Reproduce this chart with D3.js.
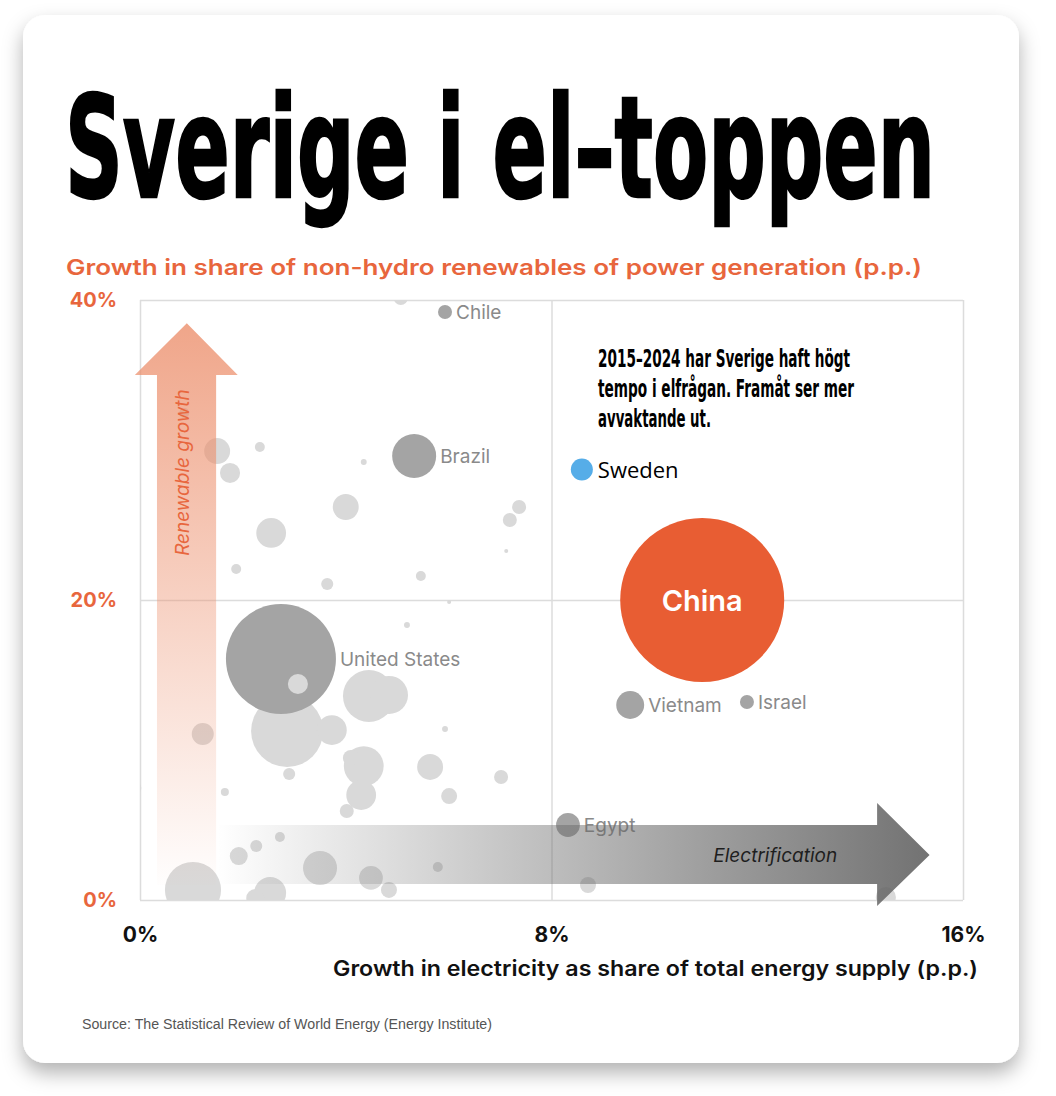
<!DOCTYPE html>
<html lang="sv">
<head>
<meta charset="UTF-8" />
<title>Sverige i el-toppen</title>
<style>
  html, body { margin: 0; padding: 0; background: #fff; }
  svg { display: block; }
  .tick line { stroke: #dcdcdc; stroke-width: 1.5px; }
  .domain { display: none; }
</style>
</head>
<body>
<svg id="chart" width="1056" height="1096"></svg>
<script src="https://d3js.org/d3.v7.min.js"></script>
<script>
  // labelled countries
  const names   = ["China", "Sweden", "United States", "Brazil", "Chile", "Vietnam", "Israel", "Egypt"];
  const xVals   = [10.93, 8.59, 2.74, 5.33, 5.93, 9.53, 11.80, 8.32];
  const yVals   = [20.0, 28.7, 16.07, 29.6, 39.2, 13.0, 13.2, 5.0];
  const sizes   = [100, 1.8, 45, 7.2, 0.73, 2.9, 0.73, 2.1];

  // unlabelled countries (x, y, size)
  const otherX = [5.07, 1.50, 1.75, 2.33, 4.35, 4.00, 2.55, 7.37, 7.19, 7.12, 1.87, 3.64, 5.46, 6.01, 0.86,
                  2.86, 3.73, 4.45, 4.84, 5.19, 5.93, 4.35, 4.10, 4.30, 4.02, 5.64, 6.01, 7.02, 2.90, 1.65,
                  1.22, -0.15, 2.72, 2.26, 1.92, 3.50, 4.49, 4.84, 5.79, 1.03, 2.53, 2.24, 8.71, 14.50];
  const otherY = [40.13, 29.93, 28.47, 30.2, 29.2, 26.2, 24.47, 26.2, 25.33, 23.27, 22.07, 21.07, 21.6, 19.87, 32.47,
                  11.27, 11.33, 13.6, 13.67, 18.33, 11.4, 8.93, 9.47, 7.0, 5.93, 8.87, 6.93, 8.2, 8.4, 7.2,
                  11.07, 7.47, 4.2, 3.6, 2.93, 2.13, 1.47, 0.67, 2.2, 0.67, 0.47, 0.13, 1.0, 0.2];
  const otherS = [0.73, 2.5, 1.5, 0.37, 0.13, 2.5, 3.3, 0.73, 0.73, 0.06, 0.37, 0.54, 0.37, 0.06, 0.37,
                  19.3, 3.3, 10.0, 5.4, 0.13, 0.13, 5.9, 0.95, 3.3, 0.73, 2.5, 0.95, 0.73, 0.54, 0.24,
                  1.8, 1.2, 0.37, 0.54, 1.2, 4.3, 2.1, 0.95, 0.37, 11.7, 3.8, 1.2, 0.95, 1.5];
  // light circle that sits on top of the US bubble
  const topX = [3.07], topY = [14.4], topS = [1.5];

  const xTicks = [0, 8, 16];
  const yTicks = [0, 20, 40];
  const noteLines = ["2015–2024 har Sverige haft högt", "tempo i elfrågan. Framåt ser mer", "avvaktande ut."];

  const svg = d3.select("#chart");
  const orange = "#e8663d";

  const x = d3.scaleLinear().domain([0, 16]).range([140, 963]);
  const y = d3.scaleLinear().domain([0, 40]).range([900, 300]);
  const r = d3.scaleSqrt().domain([0, 100]).range([0, 82]);

  const defs = svg.append("defs");
  const shadow = defs.append("filter").attr("id", "shadow")
    .attr("x", "-10%").attr("y", "-10%").attr("width", "120%").attr("height", "125%");
  shadow.append("feDropShadow").attr("dx", 0).attr("dy", 10).attr("stdDeviation", 10)
    .attr("flood-color", "#000").attr("flood-opacity", 0.3);

  defs.append("clipPath").attr("id", "plotclip").append("rect")
    .attr("x", x(0)).attr("y", y(40)).attr("width", x(16) - x(0)).attr("height", y(0) - y(40));

  const gv = defs.append("linearGradient").attr("id", "gradV")
    .attr("gradientUnits", "userSpaceOnUse")
    .attr("x1", 0).attr("x2", 0).attr("y1", y(38.5)).attr("y2", y(0.5));
  gv.append("stop").attr("offset", 0).attr("stop-color", "#ec8f6c").attr("stop-opacity", 0.8);
  gv.append("stop").attr("offset", 1).attr("stop-color", "#ec8f6c").attr("stop-opacity", 0);

  const gh = defs.append("linearGradient").attr("id", "gradH")
    .attr("gradientUnits", "userSpaceOnUse")
    .attr("x1", x(1.5)).attr("x2", x(15.35)).attr("y1", 0).attr("y2", 0);
  gh.append("stop").attr("offset", 0).attr("stop-color", "#666").attr("stop-opacity", 0);
  gh.append("stop").attr("offset", 1).attr("stop-color", "#666").attr("stop-opacity", 0.92);

  // card
  svg.append("rect")
    .attr("x", 23).attr("y", 15).attr("width", 996).attr("height", 1048)
    .attr("rx", 22).attr("fill", "#fff").attr("filter", "url(#shadow)");

  // headline: smaller font stretched vertically to get the tall condensed look
  svg.append("g").attr("transform", "translate(65,197) scale(1,1.95)")
    .append("text")
    .attr("x", 0).attr("y", 0)
    .attr("textLength", 870).attr("lengthAdjust", "spacingAndGlyphs")
    .style("font-family", "'Liberation Sans Narrow', 'DejaVu Sans Condensed', sans-serif")
    .style("font-weight", 700).style("font-size", "72px").attr("fill", "#000")
    .attr("stroke", "#000").attr("stroke-width", 1.2)
    .text("Sverige i el–toppen");

  // y axis title
  svg.append("text")
    .attr("x", 66).attr("y", 275)
    .attr("textLength", 856).attr("lengthAdjust", "spacingAndGlyphs")
    .style("font-family", "Inter, 'Noto Sans', sans-serif")
    .style("font-weight", 600).style("font-size", "22px").attr("fill", orange)
    .text("Growth in share of non-hydro renewables of power generation (p.p.)");

  // grid and frame
  svg.append("g").attr("transform", `translate(0,${y(0)})`)
    .call(d3.axisBottom(x).tickValues(xTicks).tickSize(-(y(0) - y(40))).tickFormat(""));
  svg.append("g").attr("transform", `translate(${x(0)},0)`)
    .call(d3.axisLeft(y).tickValues(yTicks).tickSize(-(x(16) - x(0))).tickFormat(""));

  // bubbles
  const plot = svg.append("g").attr("clip-path", "url(#plotclip)");
  const others = otherX.map((v, i) => ({ x: v, y: otherY[i], s: otherS[i] }));
  const labelled = names.map((n, i) => ({ name: n, x: xVals[i], y: yVals[i], s: sizes[i] }));
  const tops = topX.map((v, i) => ({ x: v, y: topY[i], s: topS[i] }));

  plot.selectAll("circle.other").data(others).join("circle")
    .attr("class", "other")
    .attr("cx", d => x(d.x)).attr("cy", d => y(d.y)).attr("r", d => r(d.s))
    .attr("fill", "#d9d9d9");

  plot.selectAll("circle.lab").data(labelled).join("circle")
    .attr("class", "lab")
    .attr("cx", d => x(d.x)).attr("cy", d => y(d.y)).attr("r", d => r(d.s))
    .attr("fill", d => d.name === "China" ? "#e85d33" : d.name === "Sweden" ? "#56ade8" : "#a4a4a4");

  plot.selectAll("circle.top").data(tops).join("circle")
    .attr("class", "top")
    .attr("cx", d => x(d.x)).attr("cy", d => y(d.y)).attr("r", d => r(d.s))
    .attr("fill", "#d9d9d9");

  // country labels
  const grey = labelled.filter(d => d.name !== "China" && d.name !== "Sweden");
  svg.selectAll("text.clab").data(grey).join("text")
    .attr("class", "clab")
    .attr("x", d => x(d.x) + r(d.s) + 4).attr("y", d => y(d.y) + 7)
    .style("font-family", "Inter, 'Noto Sans', sans-serif")
    .style("font-size", "19px").attr("fill", "#8a8a8a")
    .text(d => d.name);

  const china = labelled[0];
  svg.append("text")
    .attr("x", x(china.x)).attr("y", y(china.y) + 11).attr("text-anchor", "middle")
    .style("font-family", "Inter, 'Noto Sans', sans-serif")
    .style("font-weight", 600).style("font-size", "29px").attr("fill", "#fff")
    .text("China");

  const sweden = labelled[1];
  svg.append("text")
    .attr("x", x(sweden.x) + r(sweden.s) + 5).attr("y", y(sweden.y) + 8)
    .style("font-family", "'Open Sans', 'Noto Sans', sans-serif")
    .style("font-size", "22px").attr("fill", "#000")
    .text("Sweden");

  // note
  const noteWidths = [252, 256, 113];
  svg.selectAll("text.note").data(noteLines).join("text")
    .attr("class", "note")
    .attr("x", 598).attr("y", (d, i) => 367 + i * 30)
    .attr("textLength", (d, i) => noteWidths[i]).attr("lengthAdjust", "spacingAndGlyphs")
    .style("font-family", "'Liberation Sans Narrow', 'DejaVu Sans Condensed', sans-serif")
    .style("font-weight", 700).style("font-size", "24px").attr("fill", "#000")
    .text(d => d);

  // vertical arrow: renewable growth
  const vArrow = [[0.33, 1.0], [0.33, 35.0], [-0.1, 35.0], [0.91, 38.45], [1.9, 35.0], [1.48, 35.0], [1.48, 1.0]];
  svg.append("path")
    .attr("d", d3.line().x(d => x(d[0])).y(d => y(d[1]))(vArrow) + "Z")
    .attr("fill", "url(#gradV)");
  svg.append("text")
    .attr("transform", `translate(${x(0.95)},${y(28.5)}) rotate(-90)`)
    .attr("text-anchor", "middle")
    .style("font-family", "Inter, 'Noto Sans', sans-serif")
    .style("font-style", "italic").style("font-size", "19px").attr("fill", orange)
    .text("Renewable growth");

  // horizontal arrow: electrification
  const hArrow = [[1.5, 1.07], [14.33, 1.07], [14.33, -0.4], [15.35, 3.0], [14.33, 6.47], [14.33, 5.0], [1.5, 5.0]];
  svg.append("path")
    .attr("d", d3.line().x(d => x(d[0])).y(d => y(d[1]))(hArrow) + "Z")
    .attr("fill", "url(#gradH)");
  svg.append("text")
    .attr("x", x(12.35)).attr("y", y(2.55)).attr("text-anchor", "middle")
    .style("font-family", "Inter, 'Noto Sans', sans-serif")
    .style("font-style", "italic").style("font-size", "19px").attr("fill", "#1e1e1e")
    .text("Electrification");

  // tick labels
  const xAxis = svg.append("g").attr("transform", `translate(0,${y(0) + 42})`)
    .call(d3.axisBottom(x).tickValues(xTicks).tickSize(0).tickPadding(0).tickFormat(d => d + "%"));
  xAxis.selectAll("text")
    .style("font-family", "Inter, 'Noto Sans', sans-serif")
    .style("font-weight", 700).style("font-size", "21px").attr("fill", "#111").attr("dy", 0);

  const yAxis = svg.append("g").attr("transform", "translate(117,0)")
    .call(d3.axisLeft(y).tickValues(yTicks).tickSize(0).tickPadding(0).tickFormat(d => d + "%"));
  yAxis.selectAll("text")
    .style("font-family", "Inter, 'Noto Sans', sans-serif")
    .style("font-weight", 700).style("font-size", "20px").attr("fill", orange);

  // x axis title
  svg.append("text")
    .attr("x", 978).attr("y", 976).attr("text-anchor", "end")
    .attr("textLength", 645).attr("lengthAdjust", "spacingAndGlyphs")
    .style("font-family", "Inter, 'Noto Sans', sans-serif")
    .style("font-weight", 600).style("font-size", "21px").attr("fill", "#111")
    .text("Growth in electricity as share of total energy supply (p.p.)");

  // source
  svg.append("text")
    .attr("x", 82).attr("y", 1029)
    .attr("textLength", 410).attr("lengthAdjust", "spacingAndGlyphs")
    .style("font-family", "'Liberation Sans Narrow', 'Liberation Sans', sans-serif")
    .style("font-size", "14px").attr("fill", "#555")
    .text("Source: The Statistical Review of World Energy (Energy Institute)");
</script>
</body>
</html>
